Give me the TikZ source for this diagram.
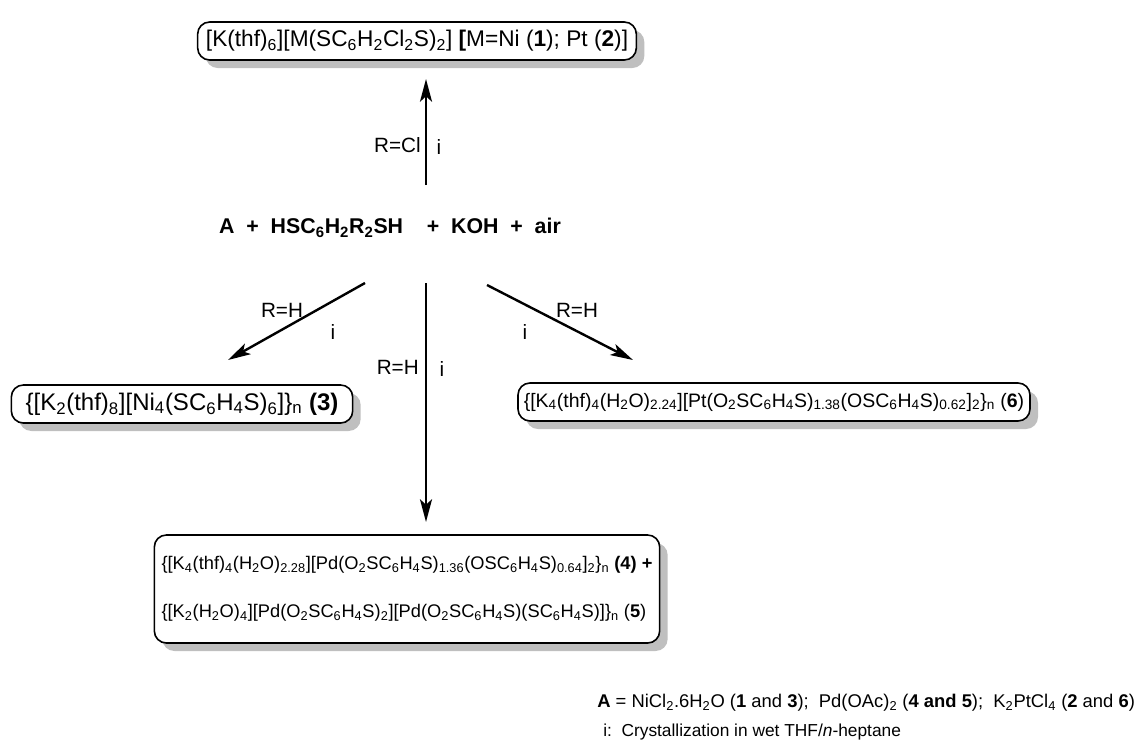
\documentclass[tikz,border=0pt]{standalone}
\usepackage{fontspec}
\setmainfont{Liberation Sans}
\usetikzlibrary{arrows.meta,shadows}
\newcommand{\sbs}[1]{\textsubscript{#1}}

\begin{document}
\begin{tikzpicture}[x=0.75pt, y=-0.75pt,
    product/.style={draw=black, line width=1.2pt, rounded corners=9pt, fill=white,
        drop shadow={shadow xshift=6pt, shadow yshift=-6pt, fill=black!25, opacity=1},
        inner sep=0pt, align=left},
    cond/.style={font=\fontsize{15.5}{18}\selectfont, inner sep=0pt},
    note/.style={inner sep=0pt, anchor=west},
    rxn/.style={line width=1.8pt, -{Stealth[length=17pt, width=9pt, inset=4pt]}}
]
    \useasboundingbox (0,0) rectangle (1142,747);

    \node[font=\fontsize{16}{19}\selectfont\bfseries, inner sep=0pt] (start) at (390,228)
        {A\ \ +\ \ HSC\sbs{6}H\sbs{2}R\sbs{2}SH\ \ \ \ +\ \ KOH\ \ +\ \ air};

    \node[product, font=\fontsize{17}{20}\selectfont, minimum width=329pt, minimum height=28.5pt] (p12) at (417,41)
        {[K(thf)\sbs{6}][M(SC\sbs{6}H\sbs{2}Cl\sbs{2}S)\sbs{2}] \textbf{[}M=Ni (\textbf{1}); Pt (\textbf{2})]};
    \node[product, font=\fontsize{18}{21}\selectfont, minimum width=256pt, minimum height=28.5pt] (p3) at (182,404)
        {\{[K\sbs{2}(thf)\sbs{8}][Ni\sbs{4}(SC\sbs{6}H\sbs{4}S)\sbs{6}]\}\sbs{n} \textbf{(3)}};
    \node[product, font=\fontsize{14.6}{17}\selectfont, minimum width=384pt, minimum height=28.5pt] (p6) at (774,402)
        {\{[K\sbs{4}(thf)\sbs{4}(H\sbs{2}O)\sbs{2.24}][Pt(O\sbs{2}SC\sbs{6}H\sbs{4}S)\sbs{1.38}(OSC\sbs{6}H\sbs{4}S)\sbs{0.62}]\sbs{2}\}\sbs{n} (\textbf{6})};
    \node[product, font=\fontsize{13.7}{16}\selectfont, minimum width=379pt, minimum height=81pt] (p45) at (407,589)
        {\{[K\sbs{4}(thf)\sbs{4}(H\sbs{2}O)\sbs{2.28}][Pd(O\sbs{2}SC\sbs{6}H\sbs{4}S)\sbs{1.36}(OSC\sbs{6}H\sbs{4}S)\sbs{0.64}]\sbs{2}\}\sbs{n} \textbf{(4) +}\\[20pt]
         \{[K\sbs{2}(H\sbs{2}O)\sbs{4}][Pd(O\sbs{2}SC\sbs{6}H\sbs{4}S)\sbs{2}][Pd(O\sbs{2}SC\sbs{6}H\sbs{4}S)(SC\sbs{6}H\sbs{4}S)]\}\sbs{n} (\textbf{5})};

    \coordinate (up0) at (426,185);
    \coordinate (up1) at (426,79);
    \coordinate (dn0) at (426,283);
    \coordinate (dn1) at (426,522);
    \coordinate (lf0) at (365,283);
    \coordinate (lf1) at (228,360);
    \coordinate (rt0) at (487,285);
    \coordinate (rt1) at (633,360);

    \draw[rxn] (up0) -- (up1);
    \draw[rxn] (dn0) -- (dn1);
    \draw[rxn] (lf0) -- (lf1);
    \draw[rxn] (rt0) -- (rt1);

    \node[cond, anchor=east] (c1) at (421,145) {R=Cl};
    \node[cond] (i1) at (439,147) {i};
    \node[cond, anchor=east] (c2) at (419,367) {R=H};
    \node[cond] (i2) at (442,369) {i};
    \node[cond] (c3) at (282,310) {R=H};
    \node[cond] (i3) at (333,332) {i};
    \node[cond] (c4) at (577,310) {R=H};
    \node[cond] (i4) at (525,332) {i};

    \node[note, font=\fontsize{13.8}{16}\selectfont] (n1) at (597,703)
        {\textbf{A} = NiCl\sbs{2}.6H\sbs{2}O (\textbf{1} and \textbf{3});\ \ Pd(OAc)\sbs{2} (\textbf{4 and 5});\ \ K\sbs{2}PtCl\sbs{4} (\textbf{2} and \textbf{6})};
    \node[note, font=\fontsize{13}{16}\selectfont] (n2) at (603,732)
        {i:\ \ Crystallization in wet THF/\textit{n}-heptane};
\end{tikzpicture}
\end{document}
